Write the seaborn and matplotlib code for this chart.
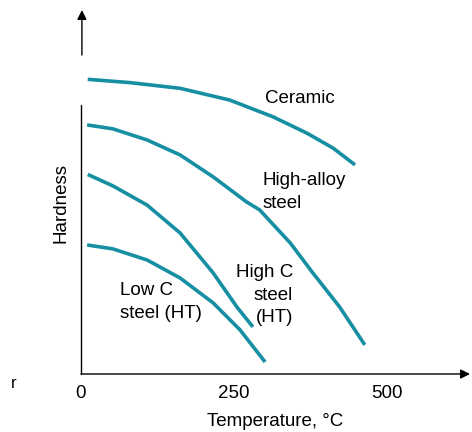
import numpy as np
import pandas as pd
import matplotlib
matplotlib.use("Agg")
import matplotlib.pyplot as plt
import seaborn as sns

# hardness vs temperature (hardness in arbitrary units)
ceramic_t = [11, 80, 162, 243, 314, 369, 412, 448]
ceramic_h = [98.2, 97.1, 95.2, 91.3, 85.7, 80.3, 75.3, 69.7]

high_alloy_t = [10, 52, 108, 162, 216, 271, 292, 342, 379, 423, 464]
high_alloy_h = [83.0, 81.7, 78.0, 73.0, 65.7, 57.3, 54.7, 43.7, 33.7, 22.3, 9.7]

high_c_t = [11, 52, 108, 162, 216, 255, 281]
high_c_h = [66.5, 62.7, 56.3, 47.0, 33.7, 22.3, 15.7]

low_c_t = [10, 52, 108, 162, 216, 260, 301]
low_c_h = [43.0, 41.7, 38.0, 32.0, 23.7, 14.7, 4.0]

tick_vals = [0, 250, 500]

LINE_COLOR = "#168fa3"
FS = 13.5

sns.set_style("white")
plt.rcParams["font.family"] = ["Liberation Sans", "DejaVu Sans"]
plt.rcParams["text.color"] = "black"
plt.rcParams["axes.labelcolor"] = "black"
plt.rcParams["xtick.color"] = "black"

frames = []
for name, t, h in [("Ceramic", ceramic_t, ceramic_h),
                   ("High-alloy", high_alloy_t, high_alloy_h),
                   ("High C", high_c_t, high_c_h),
                   ("Low C", low_c_t, low_c_h)]:
    frames.append(pd.DataFrame({"material": name, "temp": t, "hardness": h}))
df = pd.concat(frames, ignore_index=True)

fig = plt.figure(figsize=(4.72, 4.32), dpi=100)
ax = fig.add_axes([81 / 472, 58 / 432, 389 / 472, 364 / 432])

sns.lineplot(data=df, x="temp", y="hardness", units="material", estimator=None,
             color=LINE_COLOR, linewidth=2.6, sort=True, ax=ax, legend=False,
             solid_joinstyle="round", solid_capstyle="butt")

ax.set_xlim(0, 636)
ax.set_ylim(0, 121.3)
for s in ax.spines.values():
    s.set_visible(False)

# axes drawn by hand: arrowed x axis, y axis with detached arrow
ax.annotate("", xy=(636, 0), xytext=(0, 0),
            arrowprops=dict(arrowstyle="-|>", color="black", lw=1.0,
                            mutation_scale=14, shrinkA=0, shrinkB=0),
            annotation_clip=False)
ax.plot([0, 0], [0, 89.7], color="black", lw=1.0, clip_on=False)
ax.annotate("", xy=(1.5, 121.3), xytext=(1.5, 106.3),
            arrowprops=dict(arrowstyle="-|>", color="black", lw=1.0,
                            mutation_scale=14, shrinkA=0, shrinkB=0),
            annotation_clip=False)

ax.set_xticks(tick_vals)
ax.set_xticklabels([str(v) for v in tick_vals])
ax.set_xticks([500], minor=True)
ax.tick_params(axis="x", which="major", length=0, pad=8, labelsize=FS, labelcolor="black")
ax.tick_params(axis="x", which="minor", direction="in", length=9, width=1.2, color="black")
ax.set_yticks([])

ax.set_xlabel("Temperature, °C", fontsize=FS, labelpad=8, color="black")
ax.set_ylabel("Hardness", fontsize=FS, color="black")
ax.yaxis.set_label_coords(-0.03, 0.47)

ax.text(301, 91.7, "Ceramic", fontsize=FS, ha="left", va="center", color="black")
ax.text(296, 60.7, "High-alloy\nsteel", fontsize=FS, ha="left", va="center",
        linespacing=1.45, color="black")
ax.text(347, 26.3, "High C\nsteel\n(HT)", fontsize=FS, ha="right", va="center",
        linespacing=1.45, multialignment="right", color="black")
ax.text(64, 24.0, "Low C\nsteel (HT)", fontsize=FS, ha="left", va="center",
        linespacing=1.45, color="black")

fig.text(14 / 472, 1 - 383 / 432, "r", fontsize=12, ha="center", va="center", color="black")

fig.savefig("out.png", dpi=100)
